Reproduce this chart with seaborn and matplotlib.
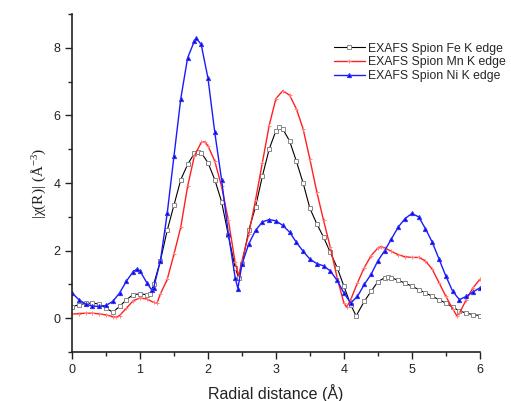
import matplotlib
matplotlib.use('Agg')
import matplotlib.pyplot as plt
from matplotlib.ticker import MultipleLocator
import seaborn as sns
import numpy as np

# Fe K edge (gray open squares)
fe_r = [0.0, 0.1, 0.2, 0.3, 0.4, 0.5, 0.6, 0.7, 0.8, 0.9, 1.0, 1.1, 1.15, 1.2, 1.3, 1.4, 1.5,
        1.6, 1.7, 1.8, 1.86, 1.9, 2.0, 2.1, 2.2, 2.3, 2.4, 2.45, 2.5, 2.6, 2.7, 2.8, 2.9,
        3.0, 3.05, 3.1, 3.2, 3.3, 3.4, 3.5, 3.6, 3.7, 3.8, 3.9, 4.0, 4.1, 4.18, 4.3, 4.4,
        4.5, 4.6, 4.65, 4.7, 4.8, 4.9, 5.0, 5.1, 5.2, 5.3, 5.4, 5.5, 5.6, 5.7, 5.8, 5.9, 6.0]
fe_chi = [0.34, 0.40, 0.44, 0.45, 0.42, 0.30, 0.18, 0.35, 0.55, 0.70, 0.72, 0.70, 0.72, 1.0, 1.7, 2.6, 3.35,
          4.1, 4.55, 4.88, 4.93, 4.9, 4.6, 4.1, 3.45, 2.45, 1.5, 1.2, 1.6, 2.6, 3.3, 4.2, 5.0,
          5.55, 5.65, 5.6, 5.25, 4.65, 4.0, 3.25, 2.8, 2.4, 1.95, 1.5, 0.95, 0.4, 0.07, 0.50, 0.80,
          1.08, 1.20, 1.23, 1.20, 1.12, 1.04, 0.95, 0.85, 0.75, 0.65, 0.55, 0.45, 0.33, 0.22, 0.15, 0.11, 0.08]

# Mn K edge (red)
mn_r = [0.0, 0.1, 0.2, 0.3, 0.4, 0.5, 0.6, 0.65, 0.7, 0.8, 0.9, 1.0, 1.1, 1.2, 1.25, 1.3, 1.4,
        1.5, 1.6, 1.7, 1.8, 1.9, 1.95, 2.0, 2.1, 2.2, 2.3, 2.4, 2.45, 2.5, 2.6, 2.7, 2.8, 2.9,
        3.0, 3.1, 3.2, 3.3, 3.4, 3.5, 3.6, 3.7, 3.8, 3.9, 4.0, 4.04, 4.1, 4.2, 4.3, 4.4, 4.5,
        4.55, 4.6, 4.7, 4.8, 4.9, 5.0, 5.1, 5.2, 5.3, 5.4, 5.5, 5.6, 5.66, 5.7, 5.8, 5.9, 6.0]
mn_chi = [0.12, 0.14, 0.15, 0.15, 0.13, 0.10, 0.05, 0.03, 0.08, 0.30, 0.52, 0.60, 0.57, 0.47, 0.45, 0.72, 1.15,
          1.9, 2.7, 3.9, 4.8, 5.2, 5.22, 5.1, 4.65, 3.9, 2.9, 1.65, 1.25, 1.7, 2.5, 3.5, 4.6, 5.7,
          6.5, 6.73, 6.6, 6.2, 5.6, 4.7, 3.75, 2.9, 2.1, 1.2, 0.45, 0.33, 0.55, 1.05, 1.50, 1.85, 2.08,
          2.12, 2.08, 1.98, 1.88, 1.82, 1.80, 1.80, 1.70, 1.45, 1.05, 0.65, 0.28, 0.08, 0.15, 0.55, 0.90, 1.15]

# Ni K edge (blue)
ni_r = [0.0, 0.1, 0.2, 0.3, 0.4, 0.5, 0.6, 0.7, 0.8, 0.9, 0.95, 1.0, 1.1, 1.17, 1.2, 1.3, 1.4,
        1.5, 1.6, 1.7, 1.8, 1.83, 1.9, 2.0, 2.1, 2.2, 2.3, 2.4, 2.44, 2.5, 2.6, 2.7, 2.8, 2.9,
        3.0, 3.1, 3.2, 3.3, 3.4, 3.5, 3.6, 3.7, 3.8, 3.9, 4.0, 4.1, 4.2, 4.3, 4.4, 4.5, 4.6,
        4.7, 4.8, 4.9, 5.0, 5.1, 5.2, 5.3, 5.4, 5.5, 5.6, 5.7, 5.8, 5.9, 6.0]
ni_chi = [0.75, 0.55, 0.42, 0.36, 0.35, 0.38, 0.50, 0.75, 1.10, 1.38, 1.45, 1.40, 1.05, 0.84, 0.90, 1.70, 3.1,
          4.8, 6.5, 7.7, 8.2, 8.28, 8.1, 7.1, 5.5, 4.1, 2.5, 1.2, 0.88, 1.6, 2.2, 2.6, 2.85, 2.92,
          2.88, 2.75, 2.55, 2.25, 1.98, 1.75, 1.62, 1.55, 1.40, 1.12, 0.75, 0.45, 0.65, 1.00, 1.30, 1.70, 2.00,
          2.35, 2.70, 2.95, 3.10, 3.00, 2.65, 2.25, 1.75, 1.25, 0.80, 0.55, 0.65, 0.78, 0.90]

sns.set_style("ticks")
plt.rcParams['font.family'] = ['Liberation Sans', 'DejaVu Sans']
plt.rcParams['mathtext.fontset'] = 'custom'
plt.rcParams['mathtext.rm'] = 'Liberation Serif'
plt.rcParams['mathtext.it'] = 'Liberation Serif:italic'

fig = plt.figure(figsize=(5.11, 4.01), dpi=100)
ax = fig.add_axes([0.141, 0.122, 0.798, 0.843])

sns.lineplot(x=fe_r, y=fe_chi, ax=ax, color='black', linewidth=0.8, marker='s',
             markersize=3.2, markerfacecolor='white', markeredgecolor='#888888',
             markeredgewidth=0.7, label='EXAFS Spion Fe K edge', estimator=None, sort=False)
sns.lineplot(x=mn_r, y=mn_chi, ax=ax, color='#ff2020', linewidth=1.0, marker='+',
             markersize=3.5, markeredgecolor='#ff8080', markeredgewidth=0.7,
             label='EXAFS Spion Mn K edge', estimator=None, sort=False)
sns.lineplot(x=ni_r, y=ni_chi, ax=ax, color='#1a1aff', linewidth=1.0, marker='^',
             markersize=3, markerfacecolor='#0000cc', markeredgecolor='#3333ff',
             label='EXAFS Spion Ni K edge', estimator=None, sort=False)

ax.set_xlim(0, 6)
ax.set_ylim(-1, 9)
ax.xaxis.set_major_locator(MultipleLocator(1))
ax.xaxis.set_minor_locator(MultipleLocator(0.5))
ax.yaxis.set_major_locator(MultipleLocator(2))
ax.yaxis.set_minor_locator(MultipleLocator(1))
ax.tick_params(which='major', direction='out', length=5, width=1, labelsize=9, colors='#222222')
ax.tick_params(which='minor', direction='out', length=3, width=1)
sns.despine(ax=ax)
for s in ['left', 'bottom']:
    ax.spines[s].set_color('#222222')
    ax.spines[s].set_linewidth(1.2)

ax.set_xlabel('Radial distance (Å)', fontsize=11.5, color='#222222', labelpad=6)
ax.set_ylabel('|χ(R)| (Å$^{-3}$)', fontsize=11, color='#222222',
              family=['Liberation Serif', 'DejaVu Serif'])

ax.legend(loc='upper right', bbox_to_anchor=(1.09, 0.948), frameon=False, fontsize=8.8,
          handlelength=2.6, labelspacing=0.15, handletextpad=0.2)

fig.savefig('out.png', dpi=100)
